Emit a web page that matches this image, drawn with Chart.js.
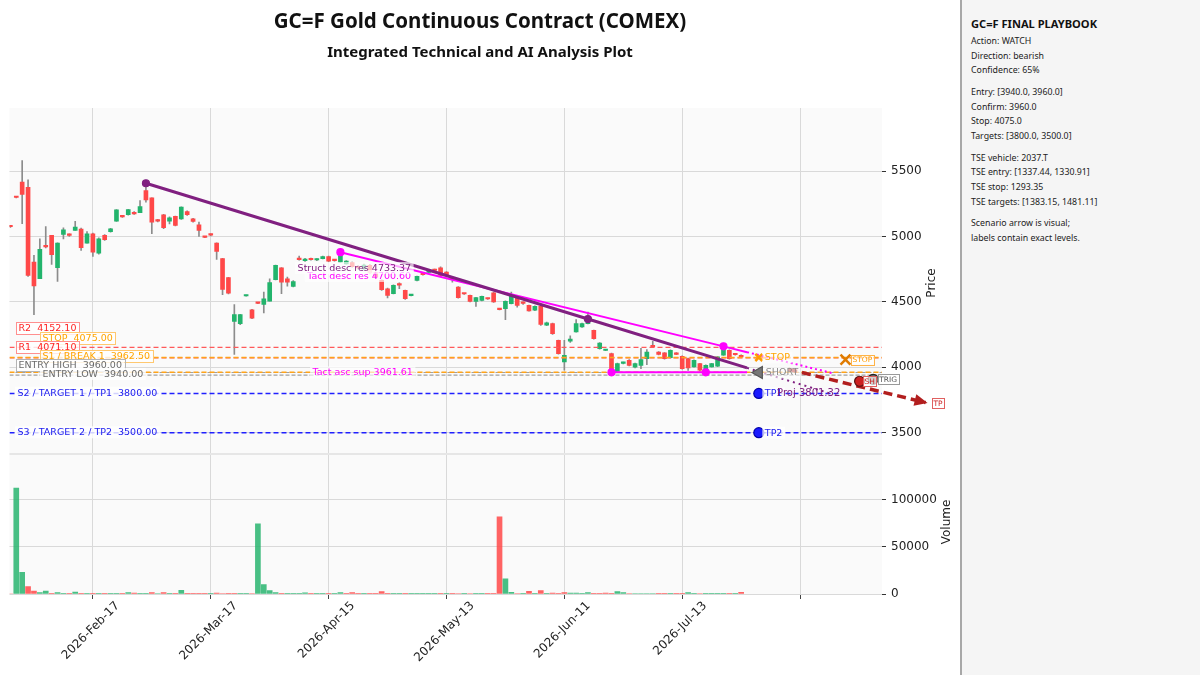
<!DOCTYPE html>
<html>
<head>
<meta charset="utf-8">
<script src="https://cdn.jsdelivr.net/npm/chart.js@4.4.1/dist/chart.umd.min.js"></script>
<style>
  html, body { margin: 0; padding: 0; background: #fff; }
  #wrap { position: relative; width: 1200px; height: 675px; overflow: hidden; }
  #chart { position: absolute; left: 0; top: 0; }
  #side { position: absolute; left: 960px; top: 0; width: 240px; height: 675px; box-sizing: border-box;
          background: #f5f5f5; border-left: 2px solid #a8a8a8; padding: 17px 0 0 9px;
          font-family: "Noto Sans", sans-serif; font-size: 8.8px; color: #222; }
  #side .ttl { font-weight: bold; font-size: 11.1px; line-height: 14px; margin-bottom: 3px; color: #111; }
  #side .grp { line-height: 14.7px; margin-bottom: 6.9px; }
</style>
</head>
<body>
<div id="wrap">
  <canvas id="chart" width="960" height="675"></canvas>
  <div id="side"></div>
</div>
<script>
// x axis: trading-day index, ticks every 20 bars
const tickIdx = [14, 34, 54, 74, 94, 114, 134];
const tickLabels = ['2026-Feb-17', '2026-Mar-17', '2026-Apr-15', '2026-May-13', '2026-Jun-11', '2026-Jul-13', ''];
const priceTicks = [3500, 4000, 4500, 5000, 5500];
const volTicks = [0, 50000, 100000];

// daily OHLC + volume
const opens = [
  5080, 5303, 5415, 5376, 4804, 4677, 4930, 5008, 4761, 5015,
  5015, 5046, 5056, 4949, 5021, 4873, 5008, 5036, 5117, 5158,
  5166, 5183, 5181, 5351, 5295, 5128, 5166, 5117, 5153, 5135,
  5191, 5135, 5089, 4998, 5016, 4949, 4830, 4685, 4351, 4334,
  4545, 4440, 4493, 4481, 4506, 4669, 4761, 4677, 4618, 4835,
  4815, 4830, 4820, 4830, 4847, 4818, 4804, 4791, 4800, 4770,
  4752, 4780, 4725, 4664, 4600, 4562, 4632, 4588, 4548, 4664,
  4712, 4725, 4745, 4761, 4728, 4680, 4613, 4564, 4550, 4504,
  4511, 4526, 4570, 4445, 4448, 4486, 4537, 4495, 4473, 4437,
  4466, 4321, 4334, 4206, 4041, 4200, 4270, 4308, 4334, 4282,
  4142, 4128, 4104, 3964, 4030, 4053, 4000, 4015, 4066, 4168,
  4117, 4110, 4074, 4110, 4084, 4066, 4003, 4028, 3990, 4003,
  4008, 4092, 4130, 4100, 4092
];
const highs = [
  5085, 5305, 5580, 5433, 4855, 4982, 5076, 5008, 4952, 5066,
  5020, 5115, 5064, 5038, 5025, 4990, 5015, 5062, 5206, 5162,
  5208, 5190, 5275, 5405, 5295, 5130, 5170, 5150, 5155, 5226,
  5195, 5138, 5110, 5000, 5020, 4952, 4832, 4688, 4479, 4404,
  4551, 4442, 4495, 4575, 4677, 4781, 4763, 4690, 4662, 4850,
  4832, 4835, 4830, 4850, 4850, 4820, 4880, 4815, 4805, 4778,
  4788, 4785, 4730, 4668, 4605, 4630, 4645, 4590, 4555, 4698,
  4715, 4735, 4750, 4768, 4732, 4690, 4616, 4566, 4552, 4535,
  4545, 4528, 4575, 4447, 4508, 4575, 4537, 4500, 4476, 4470,
  4470, 4345, 4337, 4208, 4206, 4240, 4364, 4337, 4422, 4285,
  4188, 4134, 4108, 4032, 4040, 4058, 4032, 4145, 4135, 4198,
  4120, 4113, 4133, 4113, 4088, 4070, 4056, 4030, 4018, 4030,
  4082, 4160, 4133, 4104, 4095
];
const lows = [
  5070, 5295, 5097, 4695, 4402, 4677, 4912, 4786, 4657, 4982,
  5000, 5046, 4893, 4949, 4847, 4865, 4970, 5033, 5115, 5146,
  5162, 5168, 5181, 5262, 5021, 5112, 5060, 5095, 5080, 5130,
  5160, 5110, 5000, 4990, 5005, 4824, 4555, 4560, 4099, 4326,
  4543, 4372, 4486, 4415, 4506, 4667, 4562, 4620, 4614, 4818,
  4810, 4818, 4815, 4828, 4805, 4812, 4800, 4788, 4765, 4752,
  4748, 4715, 4682, 4588, 4530, 4560, 4600, 4518, 4545, 4660,
  4705, 4720, 4735, 4695, 4705, 4650, 4528, 4557, 4500, 4465,
  4508, 4519, 4495, 4438, 4364, 4484, 4460, 4480, 4428, 4432,
  4320, 4318, 4252, 4100, 3977, 4190, 4268, 4305, 4332, 4215,
  4138, 4126, 3962, 3962, 4026, 4010, 3995, 3990, 4020, 4150,
  4095, 4062, 4070, 4096, 3985, 3975, 4000, 3970, 3962, 4000,
  4005, 4090, 4062, 4092, 4075
];
const closes = [
  5074, 5298, 5321, 4702, 4621, 4901, 4920, 4860, 4949, 5051,
  5008, 5071, 4914, 5021, 4880, 4982, 4975, 5059, 5204, 5150,
  5206, 5173, 5229, 5280, 5109, 5117, 5067, 5142, 5084, 5224,
  5166, 5115, 5046, 4993, 5010, 4885, 4595, 4567, 4402, 4402,
  4549, 4376, 4489, 4524, 4647, 4779, 4651, 4651, 4656, 4822,
  4828, 4822, 4825, 4847, 4811, 4815, 4855, 4811, 4770, 4760,
  4782, 4722, 4690, 4593, 4550, 4626, 4628, 4524, 4552, 4695,
  4708, 4730, 4740, 4702, 4708, 4672, 4532, 4560, 4504, 4532,
  4542, 4522, 4499, 4441, 4504, 4550, 4473, 4488, 4430, 4465,
  4328, 4339, 4257, 4104, 4092, 4215, 4334, 4334, 4389, 4219,
  4185, 4131, 3972, 4028, 4036, 4015, 4028, 4059, 4117, 4155,
  4099, 4066, 4130, 4099, 3990, 3995, 4053, 3977, 4015, 4028,
  4079, 4143, 4066, 4096, 4079
];
const volumes = [
  0, 112000, 23000, 7800, 3200, 1400, 3200, 700, 1400, 300,
  300, 2100, 300, 200, 200, 200, 200, 200, 600, 200,
  1400, 1000, 200, 200, 1400, 500, 1400, 200, 600, 3900,
  400, 200, 200, 200, 200, 1000, 500, 200, 200, 200,
  200, 500, 74200, 9900, 3500, 1400, 300, 200, 200, 200,
  1200, 600, 200, 200, 200, 300, 1400, 200, 1400, 200,
  200, 200, 200, 2500, 200, 200, 200, 200, 200, 200,
  200, 200, 200, 200, 200, 200, 500, 200, 500, 200,
  200, 200, 800, 81500, 16000, 1800, 500, 200, 2800, 200,
  3500, 200, 1000, 200, 1400, 1000, 1000, 200, 1400, 200,
  800, 1000, 200, 2500, 1400, 500, 500, 500, 500, 500,
  200, 200, 200, 200, 600, 1400, 200, 500, 200, 200,
  200, 200, 200, 200, 1800
];

// playbook levels
const levelNames = ['R2', 'STOP', 'R1', 'S1 / BREAK 1', 'ENTRY HIGH', 'ENTRY LOW', 'S2 / TARGET 1 / TP1', 'S3 / TARGET 2 / TP2'];
const levelValues = [4152.10, 4075.00, 4071.10, 3962.50, 3960.00, 3940.00, 3800.00, 3500.00];

// trend lines: [bar index, price]
const structPts = [[23, 5406.8], [98, 4368.8], [125, 3995.1]];
const structProj = [[125, 3995.1], [139, 3801.32]];
const tactPts = [[56, 4880.0], [121, 4159.8], [125, 4115.5]];
const tactProj = [[125, 4115.5], [139.5, 3954.8]];
const ascPts = [[102, 3961.61], [118, 3961.61], [125, 3961.61]];
const scenarioPath = [[132, 3985], [155.3, 3730]];

// scenario markers
const markStop = [[127, 4075]];
const markShort = [[127, 3960]];
const markTargets = [[127, 3800], [127, 3500]];
const scenStop = [[141.7, 4058]];
const scenShort = [[144.1, 3893]];
const scenTrig = [[146.4, 3908]];
const scenTp = [[155.6, 3725]];

const sideTitle = 'GC=F FINAL PLAYBOOK';
const sideGroups = [
  ['Action: WATCH', 'Direction: bearish', 'Confidence: 65%'],
  ['Entry: [3940.0, 3960.0]', 'Confirm: 3960.0', 'Stop: 4075.0', 'Targets: [3800.0, 3500.0]'],
  ['TSE vehicle: 2037.T', 'TSE entry: [1337.44, 1330.91]', 'TSE stop: 1293.35', 'TSE targets: [1383.15, 1481.11]'],
  ['Scenario arrow is visual;', 'labels contain exact levels.']
];

// ---------- styling ----------
const X0 = -0.15, X1 = 147.9;
const UP = '#22b46c', DN = '#ff4848';
const PURPLE = '#802080', MAGENTA = '#ff00ff';
const LABEL_FONT = '9.5px "DejaVu Sans"';

const levelStyle = [
  { c: '#ff5a5a', d: [5, 3], w: 1.3, text: '#ff2424', box: '#ff8f8f' },
  { c: '#ffa319', d: [5, 3], w: 1.4, text: '#ffa500', box: '#ffc870' },
  { c: '#ff5a5a', d: [5, 3], w: 1.3, text: '#ff2424', box: '#ff8f8f' },
  { c: '#ffa319', d: [5, 3], w: 1.4, text: '#ffa500', box: '#ffc870' },
  { c: '#a0a0a0', d: [4, 2], w: 1.2, text: '#6a6a6a', box: '#b4b4b4' },
  { c: '#a0a0a0', d: [4, 2], w: 1.2, text: '#6a6a6a', box: null },
  { c: '#2020ff', d: [5, 3], w: 1.6, text: '#2020ee', box: null },
  { c: '#2020ff', d: [5, 3], w: 1.6, text: '#2020ee', box: null }
];
// label anchors for the level tags (bar index, price)
const levelTagAt = [[1.37, 4297], [5.44, 4224], [1.37, 4155], [5.44, 4083], [1.37, 4015], [5.44, 3949], [1.2, 3806], [1.2, 3503]];

const pts = arr => arr.map(p => ({ x: p[0], y: p[1] }));
const idx = closes.map((_, i) => i);
const bodyColors = idx.map(i => closes[i] >= opens[i] ? UP : DN);
const volColors = idx.map(i => {
  const up = i === 0 ? closes[i] >= opens[i] : closes[i] >= closes[i - 1];
  return up ? 'rgba(40,180,110,0.85)' : 'rgba(255,72,72,0.85)';
});

function lineSet(data, color, width, dash, order, extra) {
  return Object.assign({
    type: 'line', data: pts(data), borderColor: color, borderWidth: width, borderDash: dash || [],
    pointRadius: 0, fill: false, tension: 0, xAxisID: 'x', yAxisID: 'yP', order: order
  }, extra || {});
}
function markSet(data, style, color, edge, radius, extra) {
  return Object.assign({
    type: 'line', showLine: false, data: pts(data), pointStyle: style, pointRadius: radius,
    pointBackgroundColor: color, pointBorderColor: edge, pointBorderWidth: 1.2,
    xAxisID: 'x', yAxisID: 'yP', order: 0
  }, extra || {});
}

const datasets = [];
// markers (on top)
datasets.push(markSet(markStop, 'crossRot', '#ff9a00', '#ff9a00', 5, { pointBorderWidth: 2.5 }));
datasets.push(markSet(markShort, 'triangle', '#777', '#555', 7, { pointRotation: -90 }));
datasets.push(markSet(markTargets, 'circle', '#1a1aff', '#0000aa', 5));
datasets.push(markSet(scenStop, 'crossRot', '#ff9a00', '#e07b00', 7, { pointBorderWidth: 2.5, clip: false }));
datasets.push(markSet(scenShort, 'circle', '#cc2020', '#551010', 5, { clip: false }));
datasets.push(markSet(scenTrig, 'circle', '#666', '#222', 5, { clip: false }));
datasets.push(markSet(scenTp, 'circle', '#cc2020', '#551010', 5, { clip: false }));
datasets.push(markSet([structPts[0], structPts[1]], 'circle', PURPLE, PURPLE, 3.5));
datasets.push(markSet([tactPts[0], tactPts[1], ascPts[0], ascPts[1]], 'circle', MAGENTA, MAGENTA, 3.5));
// scenario arrow + trend lines
datasets.push(lineSet(scenarioPath, '#b21e1e', 3.5, [9, 5], 1, { clip: false }));
datasets.push(lineSet(structPts, PURPLE, 3, null, 2));
datasets.push(lineSet(structProj, PURPLE, 2, [2, 4], 2));
datasets.push(lineSet(tactPts, MAGENTA, 2, null, 2));
datasets.push(lineSet(tactProj, MAGENTA, 2, [2, 3], 2));
datasets.push(lineSet(ascPts, MAGENTA, 2, null, 2));
// horizontal levels
levelValues.forEach((v, k) => {
  const s = levelStyle[k];
  datasets.push(lineSet([[X0, v], [X1, v]], s.c, s.w, s.d, 3));
});
// candles
datasets.push({
  type: 'bar', data: idx.map(i => ({ x: i, y: [opens[i], closes[i]] })), backgroundColor: bodyColors,
  barThickness: 4, minBarLength: 1.5, grouped: false, xAxisID: 'x', yAxisID: 'yP', order: 4
});
datasets.push({
  type: 'bar', data: idx.map(i => ({ x: i, y: [lows[i], highs[i]] })), backgroundColor: '#8c8c8c',
  barThickness: 1, grouped: false, xAxisID: 'x', yAxisID: 'yP', order: 5
});
// volume
datasets.push({
  type: 'bar', data: idx.map(i => ({ x: i, y: volumes[i] })), backgroundColor: volColors,
  barThickness: 5, grouped: false, xAxisID: 'x', yAxisID: 'yV', order: 6
});

function tag(ctx, text, x, y, o) {
  ctx.font = o.font || LABEL_FONT;
  ctx.textBaseline = 'middle';
  ctx.textAlign = 'left';
  const w = ctx.measureText(text).width;
  const left = o.align === 'right' ? x - w : x;
  const h = o.h || 12, p = o.pad == null ? 2.5 : o.pad;
  if (o.bg) { ctx.fillStyle = o.bg; ctx.fillRect(left - p, y - h / 2, w + 2 * p, h); }
  if (o.border) {
    ctx.strokeStyle = o.border; ctx.lineWidth = 1;
    ctx.strokeRect(Math.round(left - p) + 0.5, Math.round(y - h / 2) + 0.5, Math.round(w + 2 * p), Math.round(h));
  }
  ctx.fillStyle = o.color;
  ctx.fillText(text, left, y + 0.5);
}

const overlay = {
  id: 'overlay',
  beforeDraw(chart) {
    const { ctx, chartArea: a, scales } = chart;
    ctx.save();
    ctx.fillStyle = '#fafafa';
    ctx.fillRect(a.left, scales.yP.top, a.width, scales.yP.bottom - scales.yP.top - 1);
    ctx.fillRect(a.left, scales.yV.top + 1, a.width, scales.yV.bottom - scales.yV.top - 1);
    ctx.restore();
  },
  beforeDatasetsDraw(chart) {
    const { ctx, chartArea: a, scales } = chart;
    ctx.save();
    ctx.strokeStyle = '#e6e6e6'; ctx.lineWidth = 2;
    ctx.beginPath(); ctx.moveTo(a.left, scales.yV.top); ctx.lineTo(a.right, scales.yV.top); ctx.stroke();
    ctx.restore();
  },
  afterDraw(chart) {
    const { ctx, chartArea: a, scales } = chart;
    const x = scales.x, y = scales.yP;
    const px = v => x.getPixelForValue(v), py = v => y.getPixelForValue(v);
    ctx.save();

    // arrow head at the end of the scenario path
    const p0 = scenarioPath[0], p1 = scenarioPath[1];
    const ex = px(p1[0]), ey = py(p1[1]);
    const ang = Math.atan2(ey - py(p0[1]), ex - px(p0[0]));
    ctx.save();
    ctx.translate(ex, ey); ctx.rotate(ang);
    ctx.fillStyle = '#b21e1e';
    ctx.beginPath(); ctx.moveTo(2, 0); ctx.lineTo(-11, -6); ctx.lineTo(-11, 6); ctx.closePath(); ctx.fill();
    ctx.restore();

    // level tags on the left
    levelNames.forEach((n, k) => {
      const s = levelStyle[k];
      const at = levelTagAt[k];
      tag(ctx, n + '  ' + levelValues[k].toFixed(2), px(at[0]), py(at[1]),
        { color: s.text, border: s.box, bg: 'rgba(255,255,255,0.8)' });
    });

    // trend labels
    tag(ctx, 'Tact desc res 4700.60', px(68), py(4698), { color: MAGENTA, bg: 'rgba(255,255,255,0.65)', align: 'right' });
    tag(ctx, 'Struct desc res 4733.37', px(68), py(4759), { color: PURPLE, bg: 'rgba(255,255,255,0.65)', align: 'right' });
    tag(ctx, 'Tact asc sup 3961.61', px(68.3), py(3961.61), { color: MAGENTA, bg: 'rgba(255,255,255,0.65)', align: 'right' });

    // marker labels
    tag(ctx, 'STOP', px(markStop[0][0]) + 6, py(markStop[0][1]), { color: '#ffa500', bg: 'rgba(255,255,255,0.6)' });
    tag(ctx, 'SHORT', px(markShort[0][0]) + 7, py(markShort[0][1]), { color: '#8a8a8a', bg: 'rgba(255,255,255,0.6)' });
    tag(ctx, 'TP1', px(markTargets[0][0]) + 6, py(markTargets[0][1]), { color: '#2020ee', bg: 'rgba(255,255,255,0.75)' });
    tag(ctx, 'TP2', px(markTargets[1][0]) + 6, py(markTargets[1][1]), { color: '#2020ee', bg: 'rgba(255,255,255,0.75)' });
    tag(ctx, 'Proj 3801.32', px(130.1), py(3806), { color: PURPLE, font: '10px "DejaVu Sans"' });
    const small = '7.5px "DejaVu Sans"';
    tag(ctx, 'STOP', px(scenStop[0][0]) + 7, py(scenStop[0][1]), { color: '#ff9a00', border: '#ffb347', bg: 'rgba(255,255,255,0.7)', font: small, h: 10, pad: 1.5 });
    tag(ctx, 'SH', px(scenShort[0][0]) + 5, py(scenShort[0][1]), { color: '#cc2020', border: '#e06060', bg: 'rgba(255,255,255,0.7)', font: small, h: 10, pad: 1.5 });
    tag(ctx, 'TRIG', px(scenTrig[0][0]) + 6, py(scenTrig[0][1]), { color: '#555', border: '#999', bg: 'rgba(255,255,255,0.8)', font: small, h: 10, pad: 1.5 });
    tag(ctx, 'TP', px(scenTp[0][0]) + 6, py(scenTp[0][1]), { color: '#cc2020', border: '#e06060', bg: 'rgba(255,255,255,0.8)', font: small, h: 10, pad: 1.5 });

    // x tick labels, rotated 45 deg and centred on the tick
    ctx.font = '12px "DejaVu Sans"';
    ctx.fillStyle = '#222';
    ctx.textAlign = 'center'; ctx.textBaseline = 'middle';
    tickIdx.forEach((v, k) => {
      const t = tickLabels[k];
      if (!t) return;
      const w = ctx.measureText(t).width;
      const half = (w + 14) * Math.SQRT1_2 / 2;
      ctx.save();
      ctx.translate(px(v) - 2, a.bottom + 5 + half);
      ctx.rotate(-Math.PI / 4);
      ctx.fillText(t, 0, 0);
      ctx.restore();
    });

    // axis titles
    const yV = scales.yV;
    ctx.save(); ctx.translate(a.right + 50, (y.top + y.bottom) / 2 + 2); ctx.rotate(-Math.PI / 2);
    ctx.fillText('Price', 0, 0); ctx.restore();
    ctx.save(); ctx.translate(a.right + 65, (yV.top + yV.bottom) / 2 - 2); ctx.rotate(-Math.PI / 2);
    ctx.fillText('Volume', 0, 0); ctx.restore();

    ctx.restore();
  }
};

Chart.defaults.font.family = '"DejaVu Sans"';

new Chart(document.getElementById('chart'), {
  type: 'bar',
  data: { datasets: datasets },
  options: {
    responsive: false,
    animation: false,
    events: [],
    layout: { padding: { left: 8, right: 8, top: 0, bottom: 0 } },
    plugins: {
      legend: { display: false },
      tooltip: { enabled: false },
      title: {
        display: true, text: 'GC=F Gold Continuous Contract (COMEX)', color: '#111',
        font: { family: '"Noto Sans"', size: 20.5, weight: 'bold' }, padding: { top: 10, bottom: 7 }
      },
      subtitle: {
        display: true, text: 'Integrated Technical and AI Analysis Plot', color: '#111',
        font: { family: '"Noto Sans"', size: 15, weight: 'bold' }, padding: { top: 2.5, bottom: 45.9 }
      }
    },
    scales: {
      x: {
        type: 'linear', min: X0, max: X1, offset: false,
        grid: { color: '#d9d9d9', offset: false, tickLength: 5, tickColor: '#444' },
        border: { display: false },
        ticks: { display: false },
        afterBuildTicks: s => { s.ticks = tickIdx.map(v => ({ value: v })); },
        afterFit: s => { s.height = 81; }
      },
      yP: {
        type: 'linear', position: 'right', stack: 'panes', stackWeight: 346,
        min: 3337, max: 5982, beginAtZero: false,
        grid: { color: '#d9d9d9', tickLength: 4, tickColor: '#333' },
        border: { display: false },
        ticks: { color: '#222', font: { size: 12 }, padding: 5, callback: v => String(v) },
        afterBuildTicks: s => { s.ticks = priceTicks.map(v => ({ value: v })); },
        afterFit: s => { s.width = 70; }
      },
      yV: {
        type: 'linear', position: 'right', stack: 'panes', stackWeight: 140,
        min: 0, max: 148000,
        grid: { color: '#d9d9d9', tickLength: 4, tickColor: '#333' },
        border: { display: false },
        ticks: { color: '#222', font: { size: 12 }, padding: 5, callback: v => String(v) },
        afterBuildTicks: s => { s.ticks = volTicks.map(v => ({ value: v })); },
        afterFit: s => { s.width = 70; }
      }
    }
  },
  plugins: [overlay]
});

// side panel
const side = document.getElementById('side');
const t = document.createElement('div');
t.className = 'ttl'; t.textContent = sideTitle; side.appendChild(t);
sideGroups.forEach(g => {
  const d = document.createElement('div');
  d.className = 'grp';
  g.forEach(line => { const l = document.createElement('div'); l.textContent = line; d.appendChild(l); });
  side.appendChild(d);
});
</script>
</body>
</html>
